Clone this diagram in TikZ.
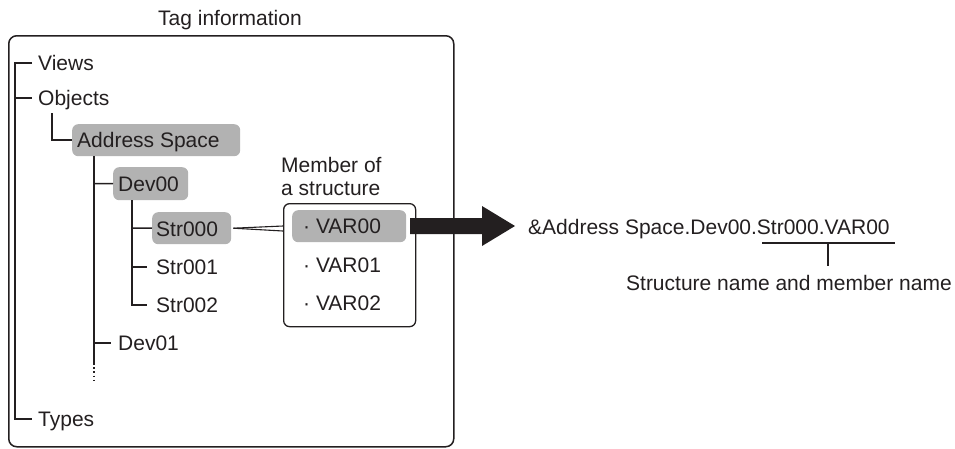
\documentclass[tikz,border=0pt]{standalone}
\usepackage{fontspec}
\setmainfont{Liberation Sans}
\definecolor{ink}{RGB}{35,31,32}
\definecolor{hlgray}{RGB}{178,178,178}
\tikzset{
  lbl/.style={anchor=base west, inner sep=0pt, font=\fontsize{21}{25}\selectfont, text=ink},
  hl/.style={fill=hlgray, rounded corners=6pt, inner sep=0pt, draw=none, anchor=north west},
  tree/.style={draw=ink, line width=1.5pt},
  frame/.style={draw=ink, line width=1.5pt, rounded corners=8pt, inner sep=0pt, anchor=north west},
  thinline/.style={draw=ink, line width=1.1pt},
}
\begin{document}
\begin{tikzpicture}[x=1pt,y=-1pt]
\useasboundingbox (0,0) rectangle (955,448);

% title and outer frame
\node[lbl, anchor=base] (title) at (230,25) {Tag information};
\node[frame, minimum width=445pt, minimum height=411pt] (outer) at (8,35) {};

% highlighted boxes
\node[hl, minimum width=168pt, minimum height=32pt] (asbox) at (72,124) {};
\node[hl, minimum width=75pt, minimum height=33pt] (devbox) at (113,167) {};
\node[hl, minimum width=79pt, minimum height=32pt] (strbox) at (152,212) {};

% member box
\node[frame, line width=1.3pt, rounded corners=6pt, minimum width=132pt, minimum height=123pt] (member) at (283,203) {};
\node[hl, minimum width=114pt, minimum height=32pt] (varbox) at (292,210) {};

% texts
\node[lbl] (views) at (38,70.5) {Views};
\node[lbl] (objects) at (38,105.5) {Objects};
\node[lbl] (as) at (77,147.5) {Address Space};
\node[lbl] (dev00) at (118,191.5) {Dev00};
\node[lbl] (str000) at (156,236.5) {Str000};
\node[lbl] (str001) at (156,274.5) {Str001};
\node[lbl] (str002) at (156,312.5) {Str002};
\node[lbl] (dev01) at (118,350.5) {Dev01};
\node[lbl] (types) at (38,426.5) {Types};
\node[lbl] (mem1) at (281,172.5) {Member of};
\node[lbl] (mem2) at (281,195.5) {a structure};
\node[lbl] (var00) at (303,233.5) {· VAR00};
\node[lbl] (var01) at (303,272.5) {· VAR01};
\node[lbl] (var02) at (303,310.5) {· VAR02};
\node[lbl] (path) at (528,234.5) {\&Address Space.Dev00.Str000.VAR00};
\node[lbl, anchor=base east] (note) at (952,290.5) {Structure name and member name};

% tree coordinates
\coordinate (tTop) at (15,63);
\coordinate (tBot) at (15,419);
\coordinate (asTop) at (94,156);
\coordinate (asEnd) at (94,363);
\coordinate (asDot) at (94,380);
\coordinate (dTop) at (132,200);
\coordinate (dBot) at (132,305);

% main trunk
\draw[tree] (views.west |- tTop) ++(-6pt,0) -- (tTop) -- (tBot) -- ([xshift=-6pt]types.west |- tBot);
\draw[tree] (15,98) -- ([xshift=-6pt]objects.west |- 0,98);
% objects -> address space
\draw[tree] (52,113) |- (asbox.west);
% address space trunk
\draw[tree] (asTop) -- (asEnd);
\draw[draw=ink, line width=1.5pt, dash pattern=on 1.6pt off 2.6pt] (asEnd) -- (asDot);
\draw[tree] (94,183.5) -- (devbox.west);
\draw[tree] (94,343) -- ([xshift=-7pt]dev01.west |- 0,343);
% dev00 trunk
\draw[tree] (dTop) -- (dBot) -- ([xshift=-9pt]str002.west |- dBot);
\draw[tree] (132,228) -- (strbox.west);
\draw[tree] (132,267) -- ([xshift=-9pt]str001.west |- 0,267);

% wedge connector
\coordinate (wedge) at ([xshift=2pt]strbox.east);
\draw[thinline] (wedge) -- (member.west |- 0,226);
\draw[thinline] (wedge) -- (member.west |- 0,231);

% big arrow
\fill[ink] (410,218) -- (482,218) -- (482,206) -- (515,226) -- (482,246) -- (482,234) -- (410,234) -- cycle;

% underline and tick
\coordinate (ulL) at (762,243);
\coordinate (ulR) at (895,243);
\coordinate (tick) at (828,243);
\draw[thinline] (ulL) -- (ulR);
\draw[thinline] (tick) -- (tick |- 0,266);
\end{tikzpicture}
\end{document}
